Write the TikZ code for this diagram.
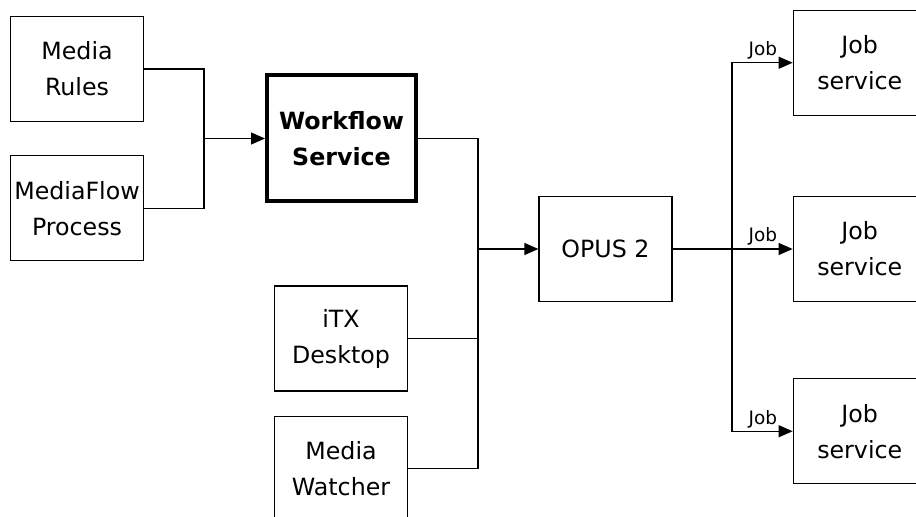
\documentclass[tikz,border=0pt]{standalone}
\usepackage{fontspec}
\setmainfont{DejaVu Sans}
\usetikzlibrary{arrows.meta, positioning}
\tikzset{
    >=Latex,
    font=\fontsize{13.5}{20.5}\selectfont,
    flow_box/.style={
        rectangle,
        draw=black,
        line width=0.025cm,
        fill=white,
        minimum width=2.66cm,
        minimum height=2.1cm,
        inner sep=0pt,
        align=center
    },
    flow_main/.style={
        flow_box,
        line width=0.08cm,
        minimum width=2.98cm,
        minimum height=2.52cm,
        font=\fontsize{13.5}{20.5}\selectfont\bfseries
    },
    flow_line/.style={
        line width=0.025cm
    },
    flow_arrow/.style={
        -{Triangle[length=0.28cm, width=0.24cm]},
        line width=0.025cm
    },
    flow_label/.style={
        font=\fontsize{10.5}{12}\selectfont,
        inner sep=0pt,
        anchor=base east,
        xshift=-0.3cm,
        yshift=0.14cm
    }
}

\begin{document}
\begin{tikzpicture}
\useasboundingbox (0,0) rectangle (18.32,-10.34);

% --- Inputs ---
\node[flow_box] (Rules) at (1.54,-1.38) {Media\\Rules};
\node[flow_box, below=0.66cm of Rules] (Process) {MediaFlow\\Process};

% --- Workflow ---
\node[flow_main] (Workflow) at (6.83,-2.77) {Workflow\\Service};
\node[flow_box] (Desktop) at (6.82,-6.77) {iTX\\Desktop};
\node[flow_box, below=0.48cm of Desktop] (Watcher) {Media\\Watcher};

% --- OPUS & jobs ---
\node[flow_box] (Opus) at (12.11,-4.98) {OPUS 2};
\node[flow_box, right=2.4cm of Opus] (JobB) {Job\\service};
\node[flow_box, above=1.6cm of JobB] (JobA) {Job\\service};
\node[flow_box, below=1.52cm of JobB] (JobC) {Job\\service};

\coordinate (joinL) at (4.08,-2.77);
\coordinate (joinM) at (9.56,-2.77);
\coordinate (joinR) at (14.64,-4.98);

% --- Edges ---
\draw[flow_line] (Rules.east) -| (joinL);
\draw[flow_line] (Process.east) -| (joinL);
\draw[flow_arrow] (joinL) -- (Workflow);

\draw[flow_line] (Workflow.east) -- (joinM) |- (Watcher.east);
\draw[flow_line] (Desktop.east) -- (Desktop.east -| joinM);
\draw[flow_arrow] (Opus.west -| joinM) -- (Opus.west);

\draw[flow_arrow] (Opus) -- (JobB) node[flow_label, pos=1] {Job};
\draw[flow_arrow] (joinR) |- (JobA.west) node[flow_label, pos=1] {Job};
\draw[flow_arrow] (joinR) |- (JobC.west) node[flow_label, pos=1] {Job};

\end{tikzpicture}
\end{document}
